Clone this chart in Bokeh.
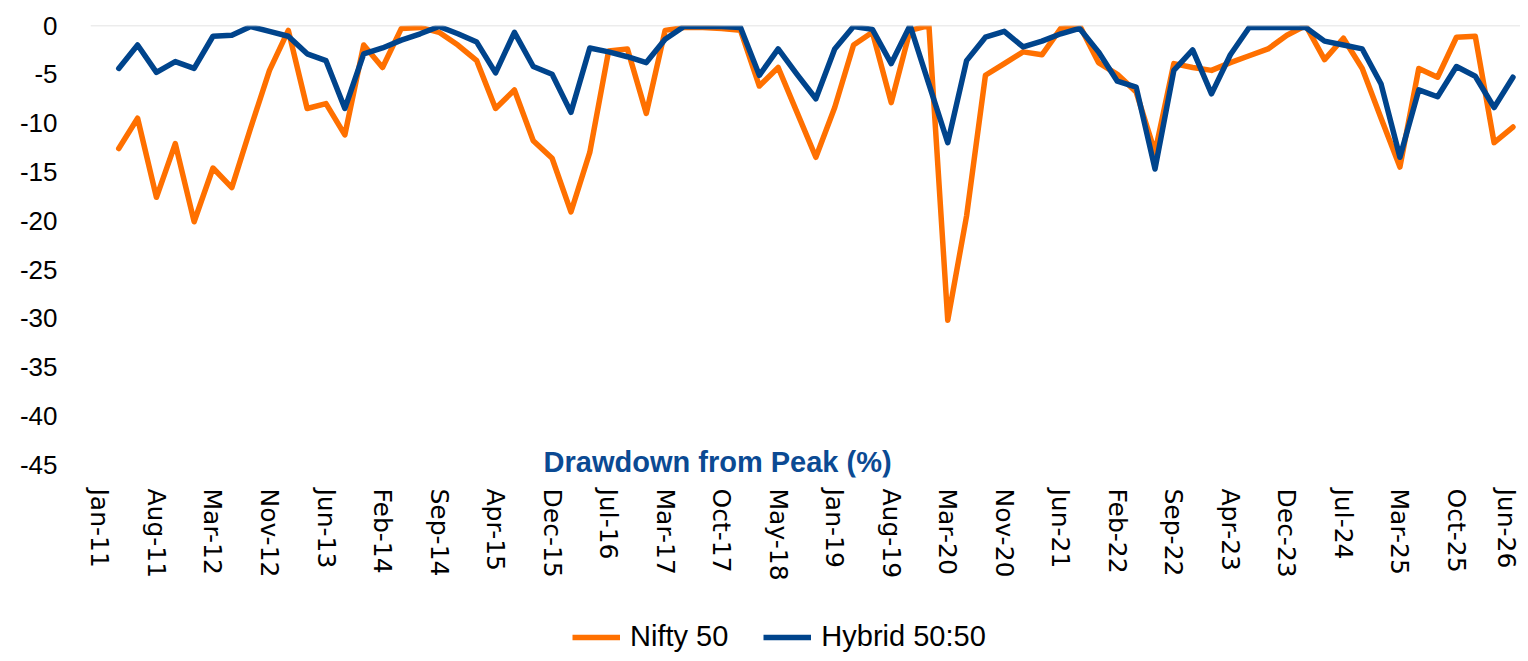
from bokeh.plotting import figure
from bokeh.layouts import column
from bokeh.models import FixedTicker, Span, Label, Legend, LegendItem
from bokeh.embed import file_html
from bokeh.resources import INLINE

# Category tick labels (one label every 3 categories; 76 categories, first one empty)
tick_labels = ["Jan-11", "Aug-11", "Mar-12", "Nov-12", "Jun-13", "Feb-14", "Sep-14",
               "Apr-15", "Dec-15", "Jul-16", "Mar-17", "Oct-17", "May-18", "Jan-19",
               "Aug-19", "Mar-20", "Nov-20", "Jun-21", "Feb-22", "Sep-22", "Apr-23",
               "Dec-23", "Jul-24", "Mar-25", "Oct-25", "Jun-26"]
label_step = 3

# Drawdown from peak (%) - categories 1..75
nifty = [-12.6, -9.5, -17.6, -12.1, -20.1, -14.6, -16.6, -10.5, -4.6, -0.5,
         -8.5, -8.0, -11.2, -2.0, -4.3, -0.3, -0.2, -0.7, -2.0, -3.6,
         -8.5, -6.6, -11.8, -13.6, -19.1, -13.0, -2.6, -2.4, -9.0, -0.5,
         -0.2, -0.2, -0.3, -0.5, -6.2, -4.3, -8.9, -13.5, -8.4, -2.0,
         -0.7, -7.9, -0.5, 0.0, -30.2, -19.5, -5.1, -3.9, -2.7, -3.0,
         -0.3, 0.0, -3.8, -5.0, -6.8, -13.0, -3.9, -4.3, -4.6, -3.8,
         -3.1, -2.4, -1.0, 0.0, -3.5, -1.3, -4.4, -9.5, -14.5, -4.4,
         -5.3, -1.2, -1.1, -12.0, -10.4]
hybrid = [-4.4, -2.0, -4.8, -3.7, -4.4, -1.1, -1.0, -0.1, -0.6, -1.1,
          -2.9, -3.6, -8.5, -2.9, -2.3, -1.5, -0.85, -0.1, -0.85, -1.7,
          -4.85, -0.7, -4.2, -5.0, -8.9, -2.3, -2.7, -3.2, -3.8, -1.4,
          -0.1, -0.1, -0.1, -0.2, -5.1, -2.4, -5.0, -7.5, -2.4, -0.1,
          -0.4, -3.9, 0.0, -6.0, -12.0, -3.6, -1.2, -0.6, -2.2, -1.6,
          -0.85, -0.3, -2.7, -5.7, -6.3, -14.7, -4.6, -2.5, -7.0, -3.0,
          -0.2, -0.2, -0.2, -0.2, -1.6, -2.0, -2.4, -6.0, -13.5, -6.6,
          -7.3, -4.2, -5.2, -8.4, -5.3]
series_names = ["Nifty 50", "Hybrid 50:50"]
y_ticks = list(range(-45, 1, 5))

n_cat = len(nifty) + 1
x = list(range(1, n_cat))

ORANGE = "#FF7000"
BLUE = "#00448C"
TITLE_BLUE = "#0B4A93"
SANS = "Liberation Sans"

p = figure(width=1520, height=620, output_backend="svg", toolbar_location=None,
           x_range=(-0.5, n_cat - 1 + 0.4), y_range=(-46.3, 0),
           min_border_left=90, min_border_right=0, min_border_top=25,
           min_border_bottom=143)
p.outline_line_color = None
p.xgrid.visible = False
p.ygrid.visible = False
p.background_fill_color = "white"
p.border_fill_color = "white"

# zero line (horizontal axis line crossing at 0)
p.add_layout(Span(location=0, dimension="width", line_color="#D9D9D9", line_width=1.5))

r1 = p.line(x, nifty, line_color=ORANGE, line_width=5.5, line_join="round", line_cap="round")
r2 = p.line(x, hybrid, line_color=BLUE, line_width=5.5, line_join="round", line_cap="round")

# x axis
tick_pos = [i * label_step for i in range(len(tick_labels))]
p.xaxis.ticker = FixedTicker(ticks=tick_pos)
p.xaxis.major_label_overrides = {t: lab for t, lab in zip(tick_pos, tick_labels)}
p.xaxis.major_label_orientation = "vertical"
p.xaxis.axis_line_color = None
p.xaxis.major_tick_line_color = None
p.xaxis.minor_tick_line_color = None
p.xaxis.major_label_text_font = "DejaVu Sans"
p.xaxis.major_label_text_font_size = "25px"
p.xaxis.major_label_text_color = "#000000"
p.xaxis.major_label_standoff = 5

# y axis
p.yaxis.ticker = FixedTicker(ticks=y_ticks)
p.yaxis.major_label_overrides = {t: str(t) for t in y_ticks}
p.yaxis.axis_line_color = None
p.yaxis.major_tick_line_color = None
p.yaxis.minor_tick_line_color = None
p.yaxis.major_label_text_font = SANS
p.yaxis.major_label_text_font_size = "26px"
p.yaxis.major_label_text_color = "#000000"
p.yaxis.major_label_standoff = 27

# title inside plot near bottom
p.add_layout(Label(x=33.0, y=-44.75, text="Drawdown from Peak  (%)", text_align="center",
                   text_baseline="middle", text_font=SANS, text_font_style="bold",
                   text_font_size="29px", text_color=TITLE_BLUE))

# legend strip below the chart (its frame is aligned with the chart frame, which starts at x=90)
pl = figure(width=1520, height=33, output_backend="svg", toolbar_location=None,
            x_range=(0, 1), y_range=(0, 1), min_border=0,
            x_axis_location=None, y_axis_location=None)
pl.grid.visible = False
pl.outline_line_color = None
pl.background_fill_color = "white"
pl.border_fill_color = "white"
# legend proxies (drawn outside the visible range)
d1 = pl.line([-5, -4], [-5, -4], line_color=ORANGE, line_width=5.5)
d2 = pl.line([-5, -4], [-5, -4], line_color=BLUE, line_width=5.5)
legend = Legend(items=[LegendItem(label=series_names[0], renderers=[d1]),
                       LegendItem(label=series_names[1], renderers=[d2])],
                orientation="horizontal", location=(482, 0),
                label_text_font=SANS, label_text_font_size="29px",
                label_text_color="#000000", glyph_width=48, glyph_height=30,
                label_height=30, spacing=35, padding=0, margin=0,
                label_standoff=10, border_line_color=None, background_fill_alpha=0)
pl.add_layout(legend, "center")

layout = column(p, pl, spacing=0)
open("out.html", "w").write(file_html(layout, INLINE))
